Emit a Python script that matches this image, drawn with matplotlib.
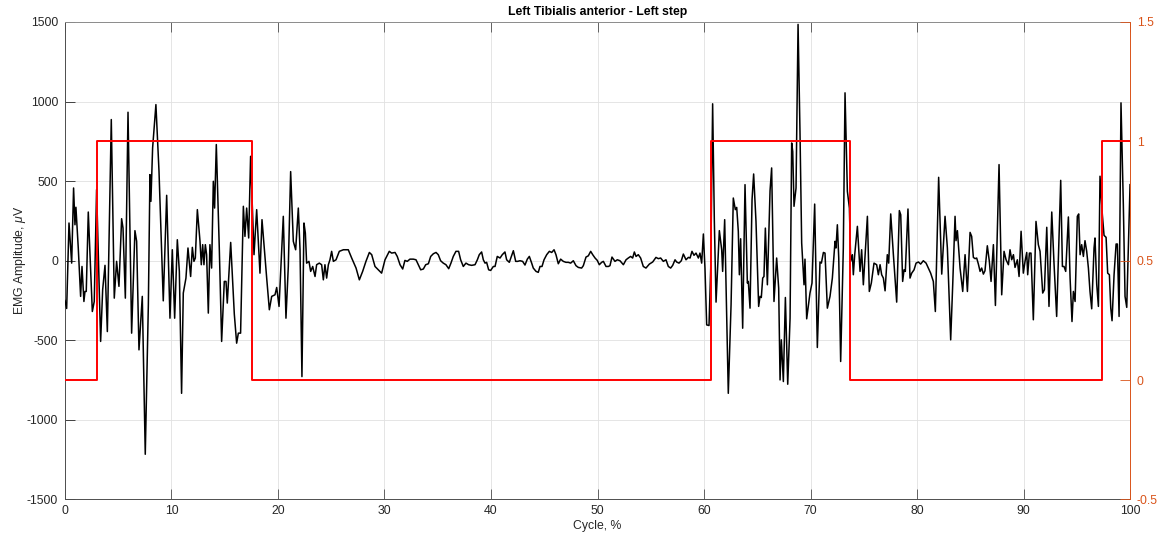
import matplotlib
matplotlib.use("Agg")
import matplotlib.pyplot as plt
import numpy as np

plt.rcParams['font.family'] = ['Liberation Sans', 'DejaVu Sans']
plt.rcParams['mathtext.fontset'] = 'custom'
plt.rcParams['mathtext.it'] = 'Liberation Sans:italic'
plt.rcParams['mathtext.rm'] = 'Liberation Sans'

# ---- EMG envelope of the left tibialis anterior over one gait cycle ----
cycle_pct = [
    0.00, 0.16, 0.38, 0.63, 0.81, 0.94, 1.03, 1.25, 1.47, 1.60, 1.78, 1.88, 2.00, 2.19,
    2.57, 2.75, 2.97, 3.35, 3.54, 3.76, 3.98, 4.35, 4.63, 4.85, 5.07, 5.32, 5.45, 5.67,
    5.92, 6.26, 6.57, 6.73, 6.95, 7.26, 7.54, 7.83, 7.98, 8.07, 8.23, 8.54, 8.83, 9.23,
    9.55, 9.86, 10.08,
    10.30, 10.55, 10.74, 10.95, 11.11, 11.36, 11.55, 11.80, 11.96, 12.11, 12.24, 12.43,
    12.68, 12.80, 12.93, 13.05, 13.18, 13.30, 13.46, 13.61, 13.77, 13.93, 14.05, 14.21,
    14.49, 14.71, 14.96, 15.12, 15.24, 15.56, 15.90, 16.12, 16.28, 16.49, 16.75, 16.90,
    17.06, 17.25, 17.43, 17.75, 18.00, 18.31, 18.50, 18.94, 19.19, 19.41, 19.72, 19.88,
    20.10,
    20.50, 20.75, 20.97, 21.19, 21.44, 21.66, 21.91, 22.07, 22.25, 22.44, 22.57, 22.69,
    22.91, 23.07, 23.26, 23.48, 23.63, 23.88, 24.10, 24.26, 24.41, 24.57, 24.73, 24.88,
    25.04, 25.20, 25.45, 25.76, 26.14, 26.60, 26.92, 27.33, 27.64, 27.95, 28.26, 28.58,
    28.80, 29.11, 29.42, 29.73, 30.05, 30.45, 30.67, 30.99,
    31.20, 31.46, 31.71, 31.92, 32.14, 32.39, 32.71, 32.96, 33.18, 33.40, 33.65, 33.87,
    34.12, 34.34, 34.59, 34.84, 35.05, 35.27, 35.52, 35.77, 36.03, 36.24, 36.46, 36.71,
    36.96, 37.15, 37.40, 37.65, 37.90, 38.18, 38.50, 38.72, 38.90, 39.12, 39.28, 39.44,
    39.59, 39.78, 39.97, 40.22, 40.38, 40.59, 40.85, 41.06, 41.31,
    41.47, 41.72, 41.91, 42.10, 42.32, 42.50, 42.72, 42.97, 43.19, 43.41, 43.60, 43.82,
    43.97, 44.23, 44.44, 44.60, 44.79, 44.98, 45.23, 45.48, 45.70, 45.92, 46.10, 46.32,
    46.54, 46.79, 47.04, 47.26, 47.48, 47.73, 47.98, 48.20, 48.51, 48.67, 48.92, 49.14,
    49.36, 49.55, 49.77, 49.98, 50.17, 50.39, 50.55, 50.80, 51.02, 51.17, 51.36, 51.64,
    51.86, 52.11, 52.43, 52.68, 52.89, 53.11, 53.30, 53.46, 53.62, 53.83, 54.05, 54.30,
    54.55, 54.87, 55.18, 55.49, 55.71, 55.93, 56.18, 56.43, 56.65, 56.87, 57.06, 57.28,
    57.43, 57.65, 57.87, 58.06, 58.31, 58.53, 58.69, 58.87, 59.06, 59.25, 59.47, 59.62,
    59.78, 59.94, 60.09, 60.25, 60.47, 60.63, 60.81, 60.97, 61.13, 61.44,
    61.66, 61.75, 61.94, 62.28, 62.54, 62.75, 62.94, 63.07, 63.22, 63.32, 63.44, 63.63,
    63.85, 64.07, 64.16, 64.32, 64.51, 64.66, 64.88, 65.13, 65.26, 65.38, 65.51, 65.63,
    65.76, 65.95, 66.20, 66.35, 66.57, 66.82, 67.01, 67.14, 67.26, 67.45, 67.64, 67.86,
    68.08, 68.23, 68.33, 68.45, 68.64, 68.83, 69.01, 69.17, 69.39, 69.48, 69.64, 69.95,
    70.14, 70.39, 70.64, 70.89, 71.02, 71.21, 71.36, 71.58, 71.83, 72.05, 72.30,
    72.39, 72.52, 72.65, 72.83, 73.08, 73.24, 73.46, 73.65, 73.77, 73.93, 74.02, 74.15,
    74.40, 74.65, 74.80, 74.96, 75.34, 75.52, 75.71, 75.96, 76.21, 76.37, 76.53, 76.68,
    76.84, 77.00, 77.21, 77.34, 77.53, 77.78, 78.09, 78.34, 78.47, 78.65, 78.78, 78.90,
    79.15, 79.34, 79.50, 79.72, 79.91, 80.13, 80.34, 80.59, 80.85, 81.06, 81.28, 81.53,
    81.72, 82.03, 82.32, 82.63,
    82.85, 83.16, 83.35, 83.57, 83.66, 83.79, 84.04, 84.29, 84.51, 84.73, 84.98, 85.13,
    85.29, 85.45, 85.60, 85.76, 85.92, 86.07, 86.23, 86.38, 86.60, 86.79, 86.95, 87.17,
    87.36, 87.70, 87.95, 88.17, 88.36, 88.58, 88.73, 88.89, 89.05, 89.20, 89.42, 89.58,
    89.77, 89.98, 90.14, 90.30, 90.39, 90.55, 90.70, 90.92, 91.17, 91.39, 91.55, 91.80,
    91.96, 92.18, 92.39, 92.65, 92.86,
    93.11, 93.49, 93.65, 93.80, 93.96, 94.21, 94.37, 94.55, 94.68, 94.84, 95.05, 95.18,
    95.31, 95.46, 95.62, 95.77, 95.93, 96.09, 96.24, 96.40, 96.62, 96.71, 96.87, 97.03,
    97.18, 97.40, 97.56, 97.75, 97.90, 98.06, 98.19, 98.31, 98.50, 98.69, 98.81, 98.97,
    99.15, 99.37, 99.53, 99.69, 100.00,
]

emg_uv = [
    -250, -300, 237, -15, 457, 226, 336, 80, -224, -36, -256, -193, -193, 306,
    -319, -256, 447, -507, -182, -29, -445, 887, -235, -4, -161, 264, 206, -235,
    933, -455, 189, 122, -560, -224, -1216, -277, 541, 373, 709, 981, 562, -252,
    411, -361, 69,
    -361, 132, -67, -833, -203, -109, 80, -99, 84, -4, 17, 321,
    122, -25, 101, -25, 101, 38, -329, 101, -46, 499, 331, 730,
    80, -507, -130, -130, -266, 115, -335, -518, -455, -455, 342, 153,
    331, 143, 656, 38, 321, -78, 258, -109, -308, -224, -214, -168,
    -287,
    279, -361, -36, 560, 122, 69, 331, 69, -728, 237, 174, -15,
    -4, -67, -36, -99, -25, -15, -25, -120, -25, -109, -25, 6,
    59, -4, 6, 59, 69, 69, 17, -46, -120, -67, -4, 52,
    38, -36, -57, -78, 6, 59, 48, 52,
    27, -25, -52, 2, -4, 10, 10, 6, -25, -57, -52, -25,
    -19, 27, 44, 52, 38, 0, -15, -25, -50, -15, 27, 59,
    59, 6, -36, -15, -25, -29, -25, 6, 38, 55, 6, -15,
    -10, -57, -61, -36, -36, 27, 17, 38, 55,
    6, -10, 27, 63, -4, -4, 0, -4, -27, 10, 27, -15,
    -46, -67, -73, -36, -36, 6, 38, 59, 52, 69, 38, -19,
    10, -4, -10, -10, -15, 0, -31, -42, -46, -31, 23, 31,
    59, 38, 17, 2, -25, -10, -4, -36, -36, -31, 23, -4,
    6, 0, -25, 6, 17, 27, 17, 55, 27, 38, 17, -36,
    -46, -21, -8, 21, 13, 17, -4, 6, -36, -46, -29, 6,
    -8, -15, 0, 42, 6, 21, 17, 59, 34, 48, 17, 48,
    -15, 168, -46, -403, -407, -46, 986, 247, -260, 189,
    69, -67, 258, -833, -277, 394, 321, 335, 185, -88, 138, -424,
    478, -140, -130, -298, 384, 545, 247, -287, -224, -231, -109, -99,
    205, -151, 440, 583, -256, 17, -172, -749, -497, -759, -231, -776,
    -361, 740, 686, 342, 457, 1485, 814, 111, -151, 10, -365, -203,
    -140, 356, -545, -8, -15, 52, 48, -298, -224, -109, 122,
    80, 226, 17, -633, 80, 1055, 436, 331, -4, 38, -88, 38,
    216, -67, 69, -151, 279, -193, -140, -15, -25, -88, -25, -88,
    -109, -189, 38, -15, 294, 38, -260, 315, 289, -130, -57, -67,
    325, -109, -78, -57, -15, -8, -21, 0, -15, -46, -78, -130,
    -319, 524, -84, 279,
    80, -497, -151, 279, 126, 189, -46, -193, 38, -193, 178, 153,
    21, 13, 17, -21, -67, -46, -84, -63, 94, -4, -130, 101,
    -281, 604, -214, 59, 6, -25, 69, 6, 38, -42, 6, -99,
    185, -78, -4, 52, -88, 48, 48, -371, 247, 101, 59, -203,
    -182, 210, -287, 306, -15,
    -350, 505, -36, -36, -67, 275, -109, -382, -193, -256, 279, 294,
    38, 101, 27, 126, 59, -46, -193, -302, 80, 143, -147, -287,
    531, 289, 159, 147, -78, -88, -298, -377, -88, 105, 105, -350,
    992, 352, -224, -293, 478,
]

# ---- foot-contact state (1 = contact) ----
contact_edges_pct = [0.0, 3.05, 17.6, 60.7, 73.7, 97.4, 100.0]
contact_state = [0, 1, 0, 1, 0, 1]

title_text = "Left Tibialis anterior - Left step"
x_label = "Cycle, %"
y_label = r"EMG Amplitude, $\mu$V"
x_ticks = [0, 10, 20, 30, 40, 50, 60, 70, 80, 90, 100]
left_ticks = [-1500, -1000, -500, 0, 500, 1000, 1500]
right_ticks = [-0.5, 0, 0.5, 1, 1.5]

AX_DARK = '#262626'
ORANGE = '#D95319'

fig = plt.figure(figsize=(11.62, 5.35), dpi=100)
ax = fig.add_axes([0.0559, 0.0664, 0.9166, 0.8925])

ax.plot(cycle_pct, emg_uv, color='black', lw=1.1, zorder=3)
ax.set_xlim(0, 100)
ax.set_ylim(-1500, 1500)
ax.set_xticks(x_ticks)
ax.set_yticks(left_ticks)
ax.set_xticklabels([str(v) for v in x_ticks])
ax.set_yticklabels([str(v) for v in left_ticks])
ax.grid(True, color='#e1e1e1', lw=0.6, zorder=0)
ax.set_axisbelow(True)
ax.tick_params(axis='both', direction='in', length=7, width=0.6,
               colors=AX_DARK, labelsize=8.8, top=True, right=False, pad=5)
ax.tick_params(axis='x', colors='#4d4d4d', labelcolor=AX_DARK, pad=4)
for side in ['left', 'bottom']:
    ax.spines[side].set_color('#4d4d4d')
    ax.spines[side].set_linewidth(0.7)
ax.spines['top'].set_color('#8c8c8c')
ax.spines['top'].set_linewidth(0.7)
ax.spines['right'].set_visible(False)

ax.set_xlabel(x_label, fontsize=8.8, color=AX_DARK, labelpad=2)
ax.set_ylabel(y_label, fontsize=8.8, color=AX_DARK, labelpad=-1)
ax.set_title(title_text, fontsize=8.8, fontweight='bold', color='black', pad=5)

ax2 = ax.twinx()
step_x = contact_edges_pct
step_y = contact_state + [contact_state[-1]]
ax2.plot(step_x, step_y, drawstyle='steps-post', color='#ff0000', lw=1.4, zorder=4)
ax2.set_ylim(-0.5, 1.5)
ax2.set_yticks(right_ticks)
ax2.set_yticklabels(['-0.5', '0', '0.5', '1', '1.5'])
ax2.tick_params(axis='y', direction='in', length=7, width=0.6, colors=ORANGE,
                labelsize=8.8, pad=5)
ax2.spines['right'].set_color(ORANGE)
ax2.spines['right'].set_linewidth(0.7)
for side in ['left', 'top', 'bottom']:
    ax2.spines[side].set_visible(False)

fig.savefig('out.png', dpi=100, facecolor='white')
